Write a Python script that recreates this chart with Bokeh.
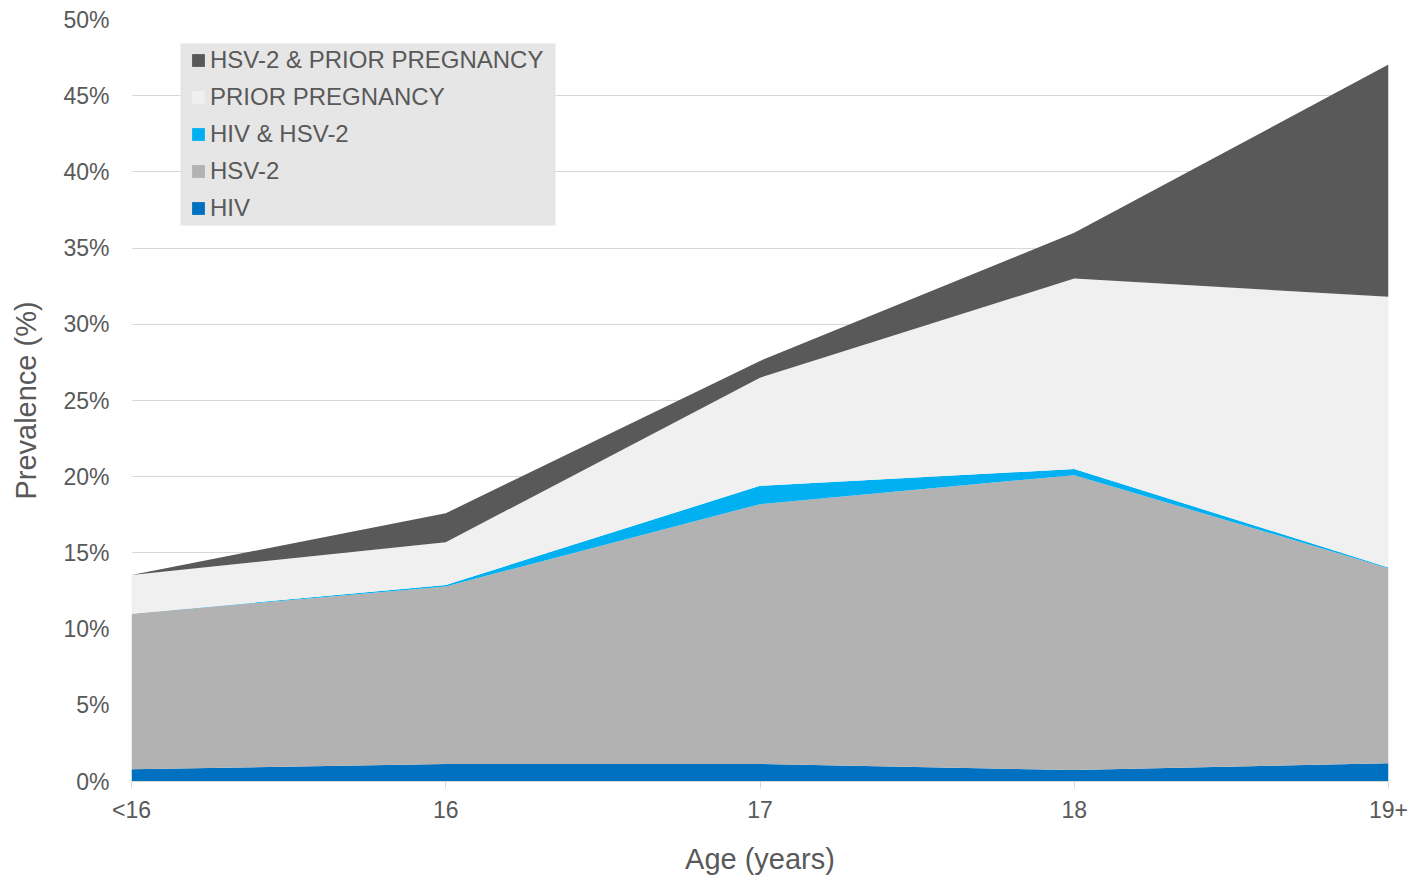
from bokeh.plotting import figure
from bokeh.models import (ColumnDataSource, Range1d, FixedTicker, PrintfTickFormatter, Legend,
                          LegendItem, BoxAnnotation)
from bokeh.embed import file_html
from bokeh.resources import INLINE

# ---- data (percent, stacked increments, bottom to top) ----
age_labels = ["<16", "16", "17", "18", "19+"]
hiv = [0.8, 1.15, 1.15, 0.75, 1.2]
hsv2 = [10.2, 11.65, 17.05, 19.35, 12.8]
hiv_hsv2 = [0.0, 0.1, 1.2, 0.4, 0.05]
prior_preg = [2.55, 2.8, 7.1, 12.5, 17.75]
hsv2_prior_preg = [0.0, 1.9, 1.1, 3.0, 15.25]

series_names = ["HIV", "HSV-2", "HIV & HSV-2", "PRIOR PREGNANCY", "HSV-2 & PRIOR PREGNANCY"]
series_cols = ["hiv", "hsv2", "hiv_hsv2", "prior_preg", "hsv2_prior_preg"]
series_colors = ["#0070C0", "#B2B2B2", "#00B0F0", "#F0F0F0", "#595959"]
y_ticks = [0, 5, 10, 15, 20, 25, 30, 35, 40, 45, 50]

FONT = "Liberation Sans"
TXT = "#595959"

x_pos = list(range(len(age_labels)))
source = ColumnDataSource(dict(x=x_pos, hiv=hiv, hsv2=hsv2, hiv_hsv2=hiv_hsv2,
                               prior_preg=prior_preg, hsv2_prior_preg=hsv2_prior_preg))

p = figure(width=1426, height=877, output_backend="svg", toolbar_location=None,
           x_range=Range1d(0, len(age_labels) - 1), y_range=Range1d(0, 50),
           min_border_left=131, min_border_right=38, min_border_top=19, min_border_bottom=96)
p.outline_line_color = None
p.background_fill_color = "white"

renderers = p.varea_stack(stackers=series_cols, x="x", color=series_colors, source=source)

# axes
p.xaxis.ticker = FixedTicker(ticks=x_pos)
p.xaxis.major_label_overrides = {i: lab for i, lab in enumerate(age_labels)}
p.xaxis.axis_line_color = "#D9D9D9"
p.xaxis.major_tick_line_color = "#D9D9D9"
p.xaxis.major_tick_out = 7
p.xaxis.major_tick_in = 0
p.xaxis.minor_tick_line_color = None
p.xaxis.major_label_standoff = 8
p.xaxis.axis_label = "Age (years)"
p.xaxis.axis_label_standoff = 17

p.yaxis.ticker = FixedTicker(ticks=y_ticks)
p.yaxis.formatter = PrintfTickFormatter(format="%d%%")
p.yaxis.axis_line_color = None
p.yaxis.major_tick_line_color = None
p.yaxis.minor_tick_line_color = None
p.yaxis.major_label_standoff = 16
p.yaxis.axis_label = "Prevalence (%)"
p.yaxis.axis_label_standoff = 18

for ax in (p.xaxis[0], p.yaxis[0]):
    ax.major_label_text_font = FONT
    ax.major_label_text_font_size = "23px"
    ax.major_label_text_color = TXT
    ax.axis_label_text_font = FONT
    ax.axis_label_text_font_size = "29px"
    ax.axis_label_text_font_style = "normal"
    ax.axis_label_text_color = TXT

p.xgrid.grid_line_color = None
p.ygrid.ticker = FixedTicker(ticks=y_ticks)
p.ygrid.grid_line_color = "#D9D9D9"
p.ygrid.grid_line_width = 1

# legend background panel (screen units, relative to the plot frame, y upward)
legend_bg = BoxAnnotation(left=49, right=424, bottom=556, top=738,
                          left_units="screen", right_units="screen",
                          top_units="screen", bottom_units="screen",
                          fill_color="#E6E6E6", fill_alpha=1.0, line_color=None)
p.add_layout(legend_bg)

# legend (top entry first)
items = [LegendItem(label=series_names[i], renderers=[renderers[i]]) for i in reversed(range(len(series_names)))]
legend = Legend(items=items, location=(59, 559), margin=0, padding=0, spacing=9,
                label_height=28, glyph_width=16, glyph_height=16, label_standoff=4,
                label_text_font=FONT, label_text_font_size="24px", label_text_color=TXT,
                background_fill_alpha=0.0, border_line_color=None)
p.add_layout(legend, "center")

open("out.html", "w").write(file_html(p, INLINE))
